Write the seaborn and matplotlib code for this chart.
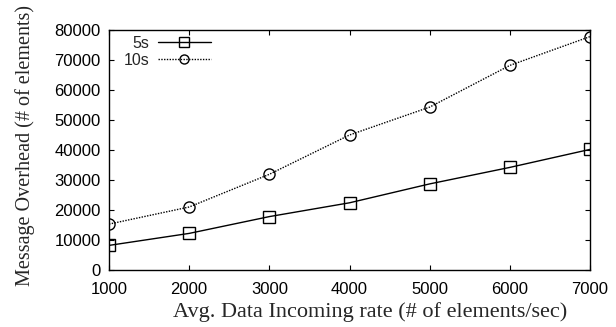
import matplotlib
matplotlib.use("Agg")
import matplotlib.pyplot as plt
import seaborn as sns
import pandas as pd

rates = [1000, 2000, 3000, 4000, 5000, 6000, 7000]
overhead_5s = [8200, 12200, 17800, 22400, 28700, 34200, 40200]
overhead_10s = [15300, 21000, 31900, 45000, 54300, 68200, 77800]
series_names = ["5s", "10s"]
y_ticks = [0, 10000, 20000, 30000, 40000, 50000, 60000, 70000, 80000]
x_ticks = [1000, 2000, 3000, 4000, 5000, 6000, 7000]

df = pd.DataFrame({
    "rate": rates * 2,
    "overhead": overhead_5s + overhead_10s,
    "window": [series_names[0]] * len(rates) + [series_names[1]] * len(rates),
})

sns.set_style("ticks")
plt.rcParams["font.family"] = ["Liberation Sans", "DejaVu Sans"]

fig = plt.figure(figsize=(6.16, 3.27), dpi=100)
ax = fig.add_axes([109 / 616, 1 - 270 / 327, 481 / 616, 240 / 327])

sns.lineplot(
    data=df, x="rate", y="overhead", hue="window", style="window",
    palette={"5s": "black", "10s": "black"},
    dashes={"5s": "", "10s": (1, 1)},
    markers={"5s": "s", "10s": "o"},
    markersize=8, markerfacecolor="none", markeredgecolor="black",
    markeredgewidth=1.0, linewidth=1.0, ax=ax,
)

ax.set_xlim(1000, 7000)
ax.set_ylim(0, 80000)
ax.set_xticks(x_ticks)
ax.set_yticks(y_ticks)
ax.tick_params(direction="in", top=True, right=True, length=3.5, width=0.8,
               labelsize=12, colors="black")
ax.tick_params(axis="x", pad=9)
ax.tick_params(axis="y", pad=6)
for s in ax.spines.values():
    s.set_visible(True)
    s.set_linewidth(1.0)
    s.set_color("black")

ax.set_xlabel("Avg. Data Incoming rate (# of elements/sec)",
              family="Liberation Serif", fontsize=16, labelpad=3)
ax.set_ylabel("Message Overhead (# of elements)",
              family="Liberation Serif", fontsize=14.5, labelpad=14)
ax.xaxis.label.set_x(0.543)
ax.yaxis.label.set_y(0.52)

leg = ax.legend(loc="upper left", frameon=False, markerfirst=False,
                fontsize=11.5, handlelength=3.3, handletextpad=0.55,
                labelspacing=0.1, borderpad=0.0, borderaxespad=0.0,
                bbox_to_anchor=(0.03, 0.975))
for t in leg.get_texts():
    t.set_ha("right")
for h in leg.legend_handles:
    h.set_markersize(6.5)

fig.savefig("out.png", dpi=100)
